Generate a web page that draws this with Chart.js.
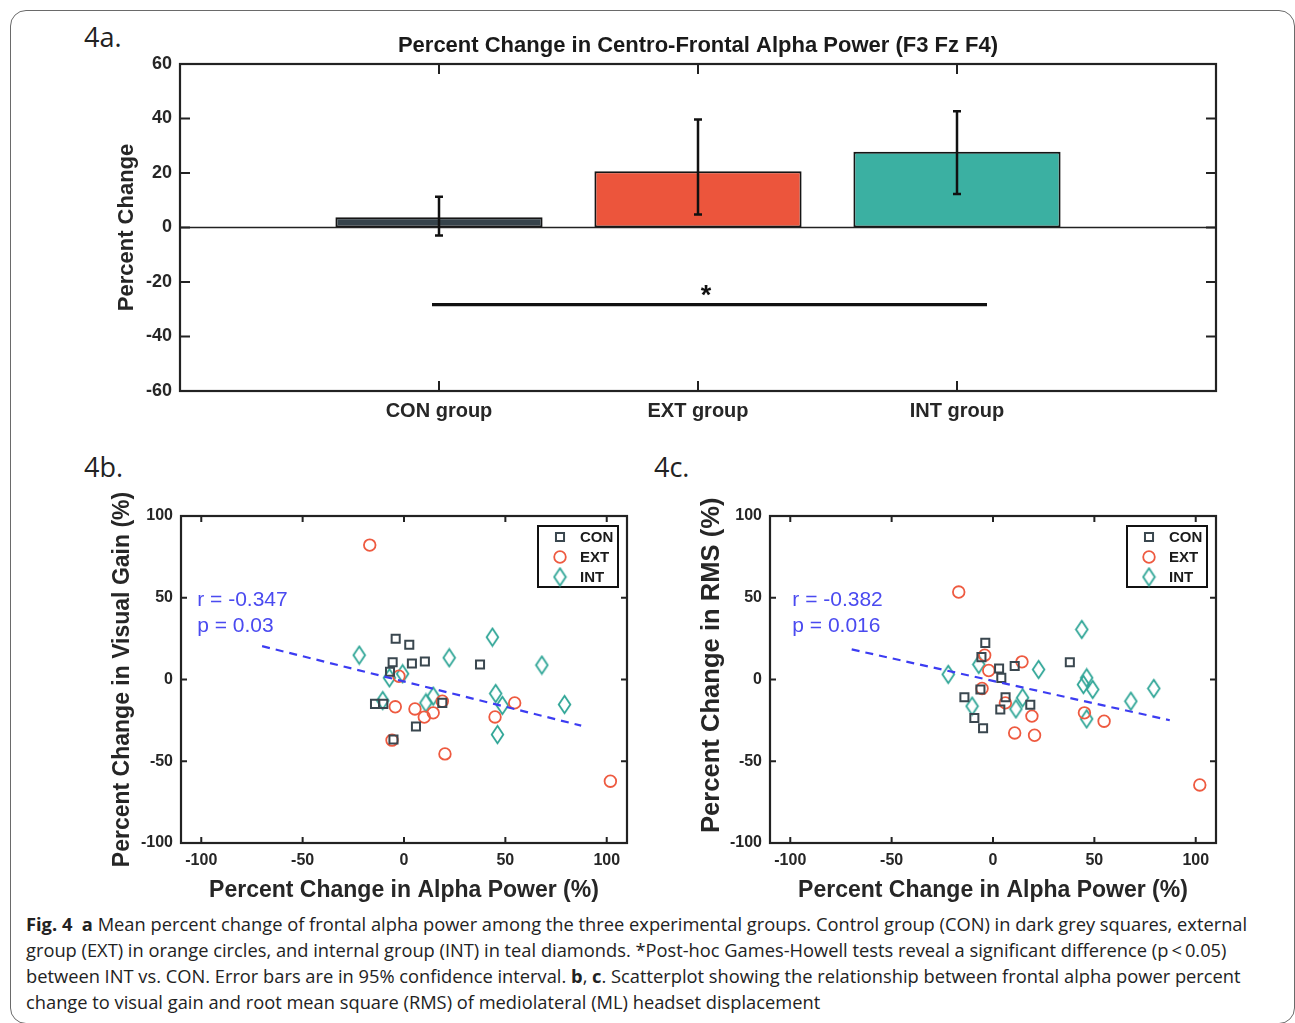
<!DOCTYPE html>
<html>
<head>
<meta charset="utf-8">
<script src="https://cdn.jsdelivr.net/npm/chart.js@4.4.0/dist/chart.umd.min.js"></script>
<style>
html,body{margin:0;padding:0;background:#fff;}
#page{position:relative;width:1295px;height:1023px;overflow:hidden;background:#fff;}
#frame{position:absolute;left:10px;top:10px;width:1285px;height:1014px;border:1.5px solid #6a6a6a;border-radius:16px;box-sizing:border-box;}
.plabel{position:absolute;font-family:"Open Sans",sans-serif;font-size:27px;line-height:28px;color:#222;}
canvas{position:absolute;}
#caption{position:absolute;left:26px;top:911px;font-family:"Open Sans",sans-serif;font-size:18.3px;line-height:26px;color:#222;white-space:nowrap;}
#caption b{font-weight:700;}
</style>
</head>
<body>
<div id="page">
  <div id="frame"></div>
  <div class="plabel" style="left:84px;top:23px;">4a.</div>
  <div class="plabel" style="left:84px;top:453px;">4b.</div>
  <div class="plabel" style="left:654px;top:453px;">4c.</div>
  <canvas id="cA" width="1295" height="440" style="left:0;top:0;"></canvas>
  <canvas id="cB" width="650" height="470" style="left:0;top:440px;"></canvas>
  <canvas id="cC" width="645" height="470" style="left:650px;top:440px;"></canvas>
  <div id="caption">
    <div><b>Fig. 4</b>&nbsp; <b>a</b> Mean percent change of frontal alpha power among the three experimental groups. Control group (CON) in dark grey squares, external</div>
    <div>group (EXT) in orange circles, and internal group (INT) in teal diamonds. *Post-hoc Games-Howell tests reveal a significant difference (p&thinsp;&lt;&thinsp;0.05)</div>
    <div>between INT vs. CON. Error bars are in 95% confidence interval. <b>b</b>, <b>c</b>. Scatterplot showing the relationship between frontal alpha power percent</div>
    <div>change to visual gain and root mean square (RMS) of mediolateral (ML) headset displacement</div>
  </div>
</div>
<script>
// ---------------- DATA ----------------
// Panel a: bar chart
const barTitle = 'Percent Change in Centro-Frontal Alpha Power (F3 Fz F4)';
const barCategories = ['CON group', 'EXT group', 'INT group'];
const barMeans = [3.8, 20.6, 27.8];
const barErrLow = [-2.9, 4.8, 12.3];
const barErrHigh = [11.3, 39.6, 42.7];
const sigLevel = -28.3;
const sigMark = '*';

// Panel b: alpha power change (x) vs visual gain change (y)
const conAlphaB = [-4.1, 2.6, -5.6, 3.9, 10.3, 37.5, -6.9, -14.3, -10.2, 18.9, 5.9, -5.2];
const conGainB  = [24.9, 21.2, 10.6, 9.8, 11.0, 9.2, 4.7, -14.9, -14.9, -14.3, -28.8, -36.7];
const extAlphaB = [-16.9, -2.5, -4.3, 5.4, 10.0, 14.4, 18.9, -5.9, 20.2, 44.9, 54.6, 101.8];
const extGainB  = [82.2, 2.0, -16.7, -18.0, -23.0, -20.4, -13.3, -37.1, -45.5, -22.9, -14.3, -62.2];
const intAlphaB = [-22.1, -7.2, -0.7, -10.5, 10.8, 14.4, 22.3, 43.6, 45.2, 48.5, 46.1, 68.0, 79.2];
const intGainB  = [14.9, 1.0, 3.5, -12.9, -14.3, -10.2, 13.3, 25.9, -8.6, -15.9, -33.7, 8.8, -15.3];
const fitAlphaB = [-70.0, 87.4];
const fitGainB  = [20.4, -28.2];
const statsB = ['r = -0.347', 'p = 0.03'];

// Panel c: alpha power change (x) vs RMS change (y)
const conAlphaC = [-3.8, -5.7, 3.0, 10.7, 4.1, 37.9, -6.2, -14.1, 6.2, 18.4, 3.6, -9.2, -4.9];
const conRmsC   = [22.4, 13.7, 6.7, 8.2, 1.0, 10.6, -6.1, -10.8, -10.8, -15.5, -18.4, -23.5, -29.8];
const extAlphaC = [-16.9, -4.1, -2.1, 14.3, -5.4, 6.1, 19.2, 10.7, 20.5, 45.1, 54.8, 102.0];
const extRmsC   = [53.5, 14.9, 5.5, 10.8, -5.5, -14.3, -22.4, -32.7, -34.1, -20.4, -25.5, -64.5];
const intAlphaC = [-22.1, -7.0, -10.3, 11.3, 14.6, 22.5, 43.8, 46.2, 44.6, 49.2, 46.2, 68.0, 79.3];
const intRmsC   = [3.1, 9.2, -16.3, -18.0, -11.2, 6.1, 30.6, 1.0, -3.1, -6.1, -24.1, -13.3, -5.5];
const fitAlphaC = [-69.7, 87.2];
const fitRmsC   = [18.4, -24.9];
const statsC = ['r = -0.382', 'p = 0.016'];

const groupNames = ['CON', 'EXT', 'INT'];
const scatterXTitle = 'Percent Change in Alpha Power (%)';
const yTitleB = 'Percent Change in Visual Gain (%)';
const yTitleC = 'Percent Change in RMS (%)';

// ---------------- STYLE ----------------
const FONT = "'Liberation Sans', Arial, Helvetica, sans-serif";
Chart.defaults.font.family = FONT;
Chart.defaults.color = '#262626';
Chart.defaults.animation = false;
Chart.defaults.events = [];
Chart.defaults.plugins.legend.display = false;
Chart.defaults.plugins.tooltip.enabled = false;

const barColors = ['#36434b', '#ec553c', '#3bb0a2'];
const conColor = '#3a474f';
const extColor = '#ee5a40';
const intColor = '#2ea596';
const fitColor = '#3c3cf2';
const statColor = '#4a4af0';
const axisColor = '#222';

function zip(xs, ys) { return xs.map((x, i) => ({x: x, y: ys[i]})); }

function diamondImg(color) {
  const c = document.createElement('canvas');
  c.width = 15; c.height = 21;
  const g = c.getContext('2d');
  g.strokeStyle = color; g.lineWidth = 1.8; g.lineJoin = 'miter';
  g.beginPath();
  g.moveTo(7.5, 1.8); g.lineTo(13.3, 10.5); g.lineTo(7.5, 19.2); g.lineTo(1.7, 10.5);
  g.closePath(); g.stroke();
  return c;
}

// ---------------- PLUGINS ----------------
const frameTicks = {
  id: 'frameTicks',
  afterDatasetsDraw(chart, args, o) {
    const {ctx, chartArea: a, scales} = chart;
    const xs = scales.x, ys = scales.y;
    ctx.save();
    ctx.strokeStyle = axisColor;
    ctx.lineWidth = o.tickWidth;
    ctx.beginPath();
    xs.ticks.forEach((t, i) => {
      if (o.skipEmpty && !xs.getLabelForValue(t.value)) return;
      const px = xs.getPixelForTick(i);
      ctx.moveTo(px, a.bottom); ctx.lineTo(px, a.bottom - o.len);
      ctx.moveTo(px, a.top); ctx.lineTo(px, a.top + o.len);
    });
    ys.ticks.forEach((t, i) => {
      const py = ys.getPixelForTick(i);
      ctx.moveTo(a.left, py); ctx.lineTo(a.left + o.len, py);
      ctx.moveTo(a.right, py); ctx.lineTo(a.right - o.len, py);
    });
    ctx.stroke();
    if (o.zeroLine) {
      const y0 = ys.getPixelForValue(0);
      ctx.lineWidth = 1.6;
      ctx.beginPath(); ctx.moveTo(a.left, y0); ctx.lineTo(a.right, y0); ctx.stroke();
    }
    ctx.lineWidth = o.frameWidth;
    ctx.strokeRect(a.left, a.top, a.right - a.left, a.bottom - a.top);
    ctx.restore();
  }
};

const errorBars = {
  id: 'errorBars',
  afterDatasetsDraw(chart) {
    const {ctx, scales: {y}} = chart;
    const ds = chart.data.datasets[0];
    const meta = chart.getDatasetMeta(0);
    ctx.save();
    ctx.strokeStyle = '#111';
    ctx.lineWidth = 2.5;
    meta.data.forEach((bar, i) => {
      const lo = ds.errLow[i], hi = ds.errHigh[i];
      if (lo == null || hi == null) return;
      const x = bar.x, yl = y.getPixelForValue(lo), yh = y.getPixelForValue(hi);
      ctx.beginPath();
      ctx.moveTo(x, yl); ctx.lineTo(x, yh);
      ctx.moveTo(x - 4, yl); ctx.lineTo(x + 4, yl);
      ctx.moveTo(x - 4, yh); ctx.lineTo(x + 4, yh);
      ctx.stroke();
    });
    ctx.restore();
  }
};

const sigBar = {
  id: 'sigBar',
  afterDatasetsDraw(chart, args, o) {
    const {ctx, scales: {x, y}} = chart;
    const x1 = x.getPixelForValue(x.getLabels().indexOf(o.from)) - 7;
    const x2 = x.getPixelForValue(x.getLabels().indexOf(o.to)) + 30;
    const yy = y.getPixelForValue(o.level);
    ctx.save();
    ctx.strokeStyle = '#111'; ctx.lineWidth = 3.2;
    ctx.beginPath(); ctx.moveTo(x1, yy); ctx.lineTo(x2, yy); ctx.stroke();
    ctx.fillStyle = '#111';
    ctx.font = 'bold 27px ' + FONT;
    ctx.textAlign = 'center'; ctx.textBaseline = 'middle';
    ctx.fillText(o.mark, x.getPixelForValue(x.getLabels().indexOf(o.markAt)) + 8, yy - 8);
    ctx.restore();
  }
};

const boxLegend = {
  id: 'boxLegend',
  afterDraw(chart) {
    const {ctx, chartArea: a} = chart;
    const items = chart.data.datasets.filter(d => d.inLegend);
    const w = 80, h = 61;
    const x0 = a.right - 9 - w, y0 = a.top + 10;
    ctx.save();
    ctx.fillStyle = '#fff';
    ctx.fillRect(x0, y0, w, h);
    ctx.strokeStyle = '#111'; ctx.lineWidth = 2;
    ctx.strokeRect(x0, y0, w, h);
    items.forEach((d, i) => {
      const cy = y0 + 11 + 20 * i;
      ctx.strokeStyle = d.borderColor;
      ctx.fillStyle = 'rgba(0,0,0,0)';
      ctx.lineWidth = d.borderWidth;
      Chart.helpers.drawPoint(ctx, {pointStyle: d.pointStyle, radius: d.pointRadius, borderWidth: d.borderWidth, rotation: 0}, x0 + 22, cy);
      ctx.fillStyle = '#1a1a1a';
      ctx.font = 'bold 15px ' + FONT;
      ctx.textAlign = 'left'; ctx.textBaseline = 'middle';
      ctx.fillText(d.label, x0 + 42, cy + 1);
    });
    ctx.restore();
  }
};

const statsText = {
  id: 'statsText',
  afterDraw(chart, args, o) {
    const {ctx, scales: {x, y}} = chart;
    ctx.save();
    ctx.fillStyle = statColor;
    ctx.font = '21px ' + FONT;
    ctx.textAlign = 'left'; ctx.textBaseline = 'middle';
    o.lines.forEach((t, i) => {
      ctx.fillText(t, x.getPixelForValue(o.atX), y.getPixelForValue(o.atY) + 2 + i * 26);
    });
    ctx.restore();
  }
};

// ---------------- PANEL A ----------------
const fullLabels = [''].concat(barCategories, ['']);
new Chart(document.getElementById('cA'), {
  type: 'bar',
  data: {
    labels: fullLabels,
    datasets: [{
      data: [null].concat(barMeans, [null]),
      backgroundColor: ['rgba(0,0,0,0)'].concat(barColors, ['rgba(0,0,0,0)']),
      borderColor: '#151515',
      borderWidth: 2,
      borderSkipped: false,
      barPercentage: 0.8,
      categoryPercentage: 1,
      errLow: [null].concat(barErrLow, [null]),
      errHigh: [null].concat(barErrHigh, [null])
    }]
  },
  options: {
    responsive: false,
    layout: {padding: {left: 100, right: 79, top: 20, bottom: 0}},
    plugins: {
      title: {display: true, text: barTitle, fullSize: false, color: '#1a1a1a',
        font: {size: 22, weight: 'bold'}, padding: {top: 13, bottom: 4.6}},
      frameTicks: {len: 10, tickWidth: 2, frameWidth: 2.2, skipEmpty: true, zeroLine: true},
      sigBar: {level: sigLevel, from: 'CON group', to: 'INT group', mark: sigMark, markAt: 'EXT group'}
    },
    scales: {
      x: {
        offset: false,
        grid: {display: false, drawTicks: false, tickLength: 0}, border: {display: false},
        ticks: {autoSkip: false, maxRotation: 0, minRotation: 0, padding: 8, color: '#262626',
          font: {size: 20, weight: 'bold'}},
        afterFit: s => { s.height = 49; }
      },
      y: {
        min: -60, max: 60,
        grid: {display: false, drawTicks: false, tickLength: 0}, border: {display: false},
        ticks: {stepSize: 20, padding: 8, color: '#262626', font: {size: 18, weight: 'bold'}},
        title: {display: true, text: 'Percent Change', color: '#262626',
          font: {size: 22, weight: 'bold'}, padding: {top: 13.8, bottom: 0}},
        afterFit: s => { s.width = 80; }
      }
    }
  },
  plugins: [frameTicks, errorBars, sigBar]
});

// ---------------- PANELS B, C ----------------
function scatterDatasets(conX, conY, extX, extY, intX, intY, fitX, fitY) {
  return [
    {label: 'fit', type: 'line', data: zip(fitX, fitY), showLine: true, borderColor: fitColor,
      borderWidth: 2.2, borderDash: [8, 6], pointRadius: 0, fill: false, order: -1},
    {label: groupNames[0], data: zip(conX, conY), pointStyle: 'rect', pointRadius: 5.7,
      borderColor: conColor, backgroundColor: 'rgba(0,0,0,0)', borderWidth: 2, inLegend: true, order: 1},
    {label: groupNames[1], data: zip(extX, extY), pointStyle: 'circle', pointRadius: 5.8,
      borderColor: extColor, backgroundColor: 'rgba(0,0,0,0)', borderWidth: 1.8, inLegend: true, order: 2},
    {label: groupNames[2], data: zip(intX, intY), pointStyle: diamondImg(intColor), pointRadius: 6,
      borderColor: intColor, backgroundColor: 'rgba(0,0,0,0)', borderWidth: 1.8, inLegend: true, order: 3}
  ];
}

function makeScatter(id, padLeft, padRight, yTitle, yTitleSize, datasets, stats, statX) {
  return new Chart(document.getElementById(id), {
    type: 'scatter',
    data: {datasets: datasets},
    options: {
      responsive: false,
      layout: {padding: {left: padLeft, right: padRight, top: 76, bottom: 0}},
      plugins: {
        frameTicks: {len: 6, tickWidth: 2, frameWidth: 2.2, skipEmpty: false, zeroLine: false},
        statsText: {lines: stats, atX: statX, atY: 49.5}
      },
      scales: {
        x: {
          type: 'linear', min: -110, max: 110,
          grid: {display: false, drawTicks: false, tickLength: 0}, border: {display: false},
          ticks: {stepSize: 50, includeBounds: false, padding: 8, color: '#262626',
            font: {size: 16, weight: 'bold'}},
          title: {display: true, text: scatterXTitle, color: '#262626',
            font: {size: 23, weight: 'bold'}, padding: {top: 0, bottom: 5.5}},
          afterFit: s => { s.height = 67; }
        },
        y: {
          type: 'linear', min: -100, max: 100,
          grid: {display: false, drawTicks: false, tickLength: 0}, border: {display: false},
          ticks: {stepSize: 50, includeBounds: false, padding: 8, color: '#262626',
            font: {size: 16, weight: 'bold'}},
          title: {display: true, text: yTitle, color: '#262626',
            font: {size: yTitleSize, weight: 'bold'}, padding: {top: 9.2 - (yTitleSize - 23) * 0.6, bottom: 0}},
          afterFit: s => { s.width = 81; }
        }
      }
    },
    plugins: [frameTicks, boxLegend, statsText]
  });
}

makeScatter('cB', 100, 23, yTitleB, 23,
  scatterDatasets(conAlphaB, conGainB, extAlphaB, extGainB, intAlphaB, intGainB, fitAlphaB, fitGainB),
  statsB, -102);
makeScatter('cC', 39, 79, '\u00a0\u00a0\u00a0\u00a0' + yTitleC, 25.6,
  scatterDatasets(conAlphaC, conRmsC, extAlphaC, extRmsC, intAlphaC, intRmsC, fitAlphaC, fitRmsC),
  statsC, -99);
</script>
</body>
</html>
